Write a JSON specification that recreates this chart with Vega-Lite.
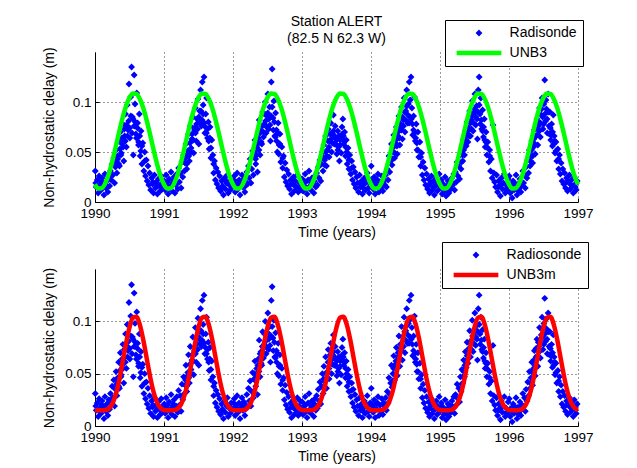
{
"$schema": "https://vega.github.io/schema/vega-lite/v6.json",
"background": "white",
"padding": {"left": 42, "top": 14, "right": 10, "bottom": 0},
"spacing": 1,
"resolve": {"scale": {"color": "independent", "shape": "independent", "x": "independent", "y": "independent"}, "legend": {"color": "independent", "shape": "independent"}},
"config": {
  "font": "Liberation Sans",
  "view": {"stroke": null},
  "axis": {"labelFontSize": 13.5, "titleFontSize": 14, "titleFontWeight": "normal", "labelColor": "#000", "titleColor": "#000", "domainColor": "#000", "tickColor": "#000", "tickSize": -4, "gridColor": "#222", "gridDash": [1, 3], "gridOpacity": 0.9, "gridWidth": 1, "labelFlush": false},
  "legend": {"labelFontSize": 14, "labelFont": "Liberation Sans", "labelColor": "#000", "strokeColor": "#000", "fillColor": "#fff", "padding": 6, "symbolSize": 2000, "symbolStrokeWidth": 4.5, "symbolOpacity": 1, "clipHeight": 14, "rowPadding": 6, "symbolOffset": 3, "labelOffset": 5.6, "orient": "none", "labelLimit": 300},
  "title": {"fontSize": 14, "fontWeight": "normal", "color": "#000", "font": "Liberation Sans"}
},
"datasets": {
"sonde": [
{"t":1990.004,"v":0.031},{"t":1990.018,"v":0.015},{"t":1990.032,"v":0.022},{"t":1990.046,"v":0.009},{"t":1990.06,"v":0.026},{"t":1990.074,"v":0.017},{"t":1990.088,"v":0.012},{"t":1990.102,"v":0.024},{"t":1990.116,"v":0.019},{"t":1990.13,"v":0.007},{"t":1990.144,"v":0.028},{"t":1990.158,"v":0.014},{"t":1990.172,"v":0.021},{"t":1990.186,"v":0.01},{"t":1990.2,"v":0.025},
{"t":1990.212,"v":0.016},{"t":1990.224,"v":0.031},{"t":1990.236,"v":0.022},{"t":1990.248,"v":0.038},{"t":1990.26,"v":0.027},{"t":1990.272,"v":0.044},{"t":1990.284,"v":0.019},{"t":1990.296,"v":0.035},
{"t":1990.305,"v":0.052},{"t":1990.3175,"v":0.029},{"t":1990.33,"v":0.043},{"t":1990.3425,"v":0.061},{"t":1990.355,"v":0.036},{"t":1990.3675,"v":0.07},{"t":1990.38,"v":0.049},{"t":1990.3925,"v":0.058},{"t":1990.405,"v":0.078},{"t":1990.4175,"v":0.041},{"t":1990.43,"v":0.066},{"t":1990.4425,"v":0.088},{"t":1990.455,"v":0.055},{"t":1990.4675,"v":0.097},{"t":1990.48,"v":0.072},{"t":1990.4925,"v":0.118},{"t":1990.505,"v":0.064},{"t":1990.5175,"v":0.105},{"t":1990.53,"v":0.135},{"t":1990.5425,"v":0.085},{"t":1990.555,"v":0.047},{"t":1990.5675,"v":0.127},{"t":1990.58,"v":0.098},{"t":1990.5925,"v":0.068},{"t":1990.605,"v":0.109},{"t":1990.6175,"v":0.079},{"t":1990.63,"v":0.057},{"t":1990.6425,"v":0.088},{"t":1990.655,"v":0.046},{"t":1990.6675,"v":0.071},{"t":1990.68,"v":0.038},{"t":1990.6925,"v":0.059},
{"t":1990.708,"v":0.031},{"t":1990.72,"v":0.05},{"t":1990.732,"v":0.026},{"t":1990.744,"v":0.042},{"t":1990.756,"v":0.021},{"t":1990.768,"v":0.036},{"t":1990.78,"v":0.017},{"t":1990.792,"v":0.029},
{"t":1990.806,"v":0.012},{"t":1990.82,"v":0.024},{"t":1990.834,"v":0.018},{"t":1990.848,"v":0.009},{"t":1990.862,"v":0.027},{"t":1990.876,"v":0.014},{"t":1990.89,"v":0.02},{"t":1990.904,"v":0.008},{"t":1990.918,"v":0.023},{"t":1990.932,"v":0.016},{"t":1990.946,"v":0.011},{"t":1990.96,"v":0.026},{"t":1990.974,"v":0.013},{"t":1990.988,"v":0.019},
{"t":1991.004,"v":0.021},{"t":1991.018,"v":0.012},{"t":1991.032,"v":0.027},{"t":1991.046,"v":0.016},{"t":1991.06,"v":0.008},{"t":1991.074,"v":0.023},{"t":1991.088,"v":0.014},{"t":1991.102,"v":0.03},{"t":1991.116,"v":0.011},{"t":1991.13,"v":0.019},{"t":1991.144,"v":0.025},{"t":1991.158,"v":0.009},{"t":1991.172,"v":0.017},{"t":1991.186,"v":0.028},{"t":1991.2,"v":0.013},
{"t":1991.212,"v":0.034},{"t":1991.224,"v":0.02},{"t":1991.236,"v":0.029},{"t":1991.248,"v":0.014},{"t":1991.26,"v":0.04},{"t":1991.272,"v":0.025},{"t":1991.284,"v":0.047},{"t":1991.296,"v":0.031},
{"t":1991.305,"v":0.039},{"t":1991.3175,"v":0.058},{"t":1991.33,"v":0.033},{"t":1991.3425,"v":0.048},{"t":1991.355,"v":0.068},{"t":1991.3675,"v":0.041},{"t":1991.38,"v":0.076},{"t":1991.3925,"v":0.054},{"t":1991.405,"v":0.063},{"t":1991.4175,"v":0.085},{"t":1991.43,"v":0.049},{"t":1991.4425,"v":0.072},{"t":1991.455,"v":0.094},{"t":1991.4675,"v":0.061},{"t":1991.48,"v":0.083},{"t":1991.4925,"v":0.103},{"t":1991.505,"v":0.058},{"t":1991.5175,"v":0.091},{"t":1991.53,"v":0.112},{"t":1991.5425,"v":0.076},{"t":1991.555,"v":0.12},{"t":1991.5675,"v":0.097},{"t":1991.58,"v":0.125},{"t":1991.5925,"v":0.069},{"t":1991.605,"v":0.088},{"t":1991.6175,"v":0.104},{"t":1991.63,"v":0.064},{"t":1991.6425,"v":0.08},{"t":1991.655,"v":0.053},{"t":1991.6675,"v":0.075},{"t":1991.68,"v":0.044},{"t":1991.6925,"v":0.062},
{"t":1991.708,"v":0.047},{"t":1991.72,"v":0.029},{"t":1991.732,"v":0.041},{"t":1991.744,"v":0.022},{"t":1991.756,"v":0.034},{"t":1991.768,"v":0.018},{"t":1991.78,"v":0.03},{"t":1991.792,"v":0.014},
{"t":1991.806,"v":0.026},{"t":1991.82,"v":0.011},{"t":1991.834,"v":0.021},{"t":1991.848,"v":0.016},{"t":1991.862,"v":0.007},{"t":1991.876,"v":0.024},{"t":1991.89,"v":0.013},{"t":1991.904,"v":0.019},{"t":1991.918,"v":0.027},{"t":1991.932,"v":0.009},{"t":1991.946,"v":0.017},{"t":1991.96,"v":0.012},{"t":1991.974,"v":0.022},{"t":1991.988,"v":0.015},
{"t":1992.004,"v":0.017},{"t":1992.018,"v":0.026},{"t":1992.032,"v":0.01},{"t":1992.046,"v":0.02},{"t":1992.06,"v":0.029},{"t":1992.074,"v":0.013},{"t":1992.088,"v":0.022},{"t":1992.102,"v":0.007},{"t":1992.116,"v":0.018},{"t":1992.13,"v":0.027},{"t":1992.144,"v":0.015},{"t":1992.158,"v":0.023},{"t":1992.172,"v":0.01},{"t":1992.186,"v":0.02},{"t":1992.2,"v":0.03},
{"t":1992.212,"v":0.018},{"t":1992.224,"v":0.036},{"t":1992.236,"v":0.024},{"t":1992.248,"v":0.043},{"t":1992.26,"v":0.019},{"t":1992.272,"v":0.033},{"t":1992.284,"v":0.051},{"t":1992.296,"v":0.027},
{"t":1992.305,"v":0.045},{"t":1992.3175,"v":0.062},{"t":1992.33,"v":0.038},{"t":1992.3425,"v":0.055},{"t":1992.355,"v":0.03},{"t":1992.3675,"v":0.064},{"t":1992.38,"v":0.082},{"t":1992.3925,"v":0.047},{"t":1992.405,"v":0.071},{"t":1992.4175,"v":0.058},{"t":1992.43,"v":0.09},{"t":1992.4425,"v":0.065},{"t":1992.455,"v":0.078},{"t":1992.4675,"v":0.1},{"t":1992.48,"v":0.069},{"t":1992.4925,"v":0.086},{"t":1992.505,"v":0.108},{"t":1992.5175,"v":0.073},{"t":1992.53,"v":0.095},{"t":1992.5425,"v":0.061},{"t":1992.555,"v":0.12},{"t":1992.5675,"v":0.133},{"t":1992.58,"v":0.084},{"t":1992.5925,"v":0.101},{"t":1992.605,"v":0.066},{"t":1992.6175,"v":0.089},{"t":1992.63,"v":0.072},{"t":1992.6425,"v":0.05},{"t":1992.655,"v":0.079},{"t":1992.6675,"v":0.057},{"t":1992.68,"v":0.068},{"t":1992.6925,"v":0.04},
{"t":1992.708,"v":0.055},{"t":1992.72,"v":0.034},{"t":1992.732,"v":0.046},{"t":1992.744,"v":0.025},{"t":1992.756,"v":0.039},{"t":1992.768,"v":0.02},{"t":1992.78,"v":0.032},{"t":1992.792,"v":0.016},
{"t":1992.806,"v":0.028},{"t":1992.82,"v":0.013},{"t":1992.834,"v":0.022},{"t":1992.848,"v":0.008},{"t":1992.862,"v":0.018},{"t":1992.876,"v":0.025},{"t":1992.89,"v":0.011},{"t":1992.904,"v":0.021},{"t":1992.918,"v":0.015},{"t":1992.932,"v":0.027},{"t":1992.946,"v":0.01},{"t":1992.96,"v":0.019},{"t":1992.974,"v":0.024},{"t":1992.988,"v":0.012},
{"t":1993.004,"v":0.023},{"t":1993.018,"v":0.011},{"t":1993.032,"v":0.019},{"t":1993.046,"v":0.028},{"t":1993.06,"v":0.014},{"t":1993.074,"v":0.008},{"t":1993.088,"v":0.022},{"t":1993.102,"v":0.031},{"t":1993.116,"v":0.016},{"t":1993.13,"v":0.012},{"t":1993.144,"v":0.024},{"t":1993.158,"v":0.018},{"t":1993.172,"v":0.009},{"t":1993.186,"v":0.026},{"t":1993.2,"v":0.015},
{"t":1993.212,"v":0.029},{"t":1993.224,"v":0.017},{"t":1993.236,"v":0.035},{"t":1993.248,"v":0.024},{"t":1993.26,"v":0.042},{"t":1993.272,"v":0.021},{"t":1993.284,"v":0.038},{"t":1993.296,"v":0.05},
{"t":1993.305,"v":0.031},{"t":1993.3175,"v":0.057},{"t":1993.33,"v":0.042},{"t":1993.3425,"v":0.066},{"t":1993.355,"v":0.036},{"t":1993.3675,"v":0.052},{"t":1993.38,"v":0.073},{"t":1993.3925,"v":0.045},{"t":1993.405,"v":0.061},{"t":1993.4175,"v":0.079},{"t":1993.43,"v":0.05},{"t":1993.4425,"v":0.068},{"t":1993.455,"v":0.087},{"t":1993.4675,"v":0.058},{"t":1993.48,"v":0.076},{"t":1993.4925,"v":0.064},{"t":1993.505,"v":0.048},{"t":1993.5175,"v":0.071},{"t":1993.53,"v":0.055},{"t":1993.5425,"v":0.041},{"t":1993.555,"v":0.062},{"t":1993.5675,"v":0.049},{"t":1993.58,"v":0.075},{"t":1993.5925,"v":0.083},{"t":1993.605,"v":0.058},{"t":1993.6175,"v":0.07},{"t":1993.63,"v":0.046},{"t":1993.6425,"v":0.062},{"t":1993.655,"v":0.038},{"t":1993.6675,"v":0.054},{"t":1993.68,"v":0.033},{"t":1993.6925,"v":0.047},
{"t":1993.708,"v":0.028},{"t":1993.72,"v":0.041},{"t":1993.732,"v":0.022},{"t":1993.744,"v":0.035},{"t":1993.756,"v":0.018},{"t":1993.768,"v":0.03},{"t":1993.78,"v":0.014},{"t":1993.792,"v":0.025},
{"t":1993.806,"v":0.019},{"t":1993.82,"v":0.01},{"t":1993.834,"v":0.027},{"t":1993.848,"v":0.015},{"t":1993.862,"v":0.021},{"t":1993.876,"v":0.008},{"t":1993.89,"v":0.017},{"t":1993.904,"v":0.024},{"t":1993.918,"v":0.012},{"t":1993.932,"v":0.02},{"t":1993.946,"v":0.029},{"t":1993.96,"v":0.014},{"t":1993.974,"v":0.009},{"t":1993.988,"v":0.022},
{"t":1994.004,"v":0.036},{"t":1994.018,"v":0.019},{"t":1994.032,"v":0.013},{"t":1994.046,"v":0.025},{"t":1994.06,"v":0.008},{"t":1994.074,"v":0.021},{"t":1994.088,"v":0.016},{"t":1994.102,"v":0.028},{"t":1994.116,"v":0.01},{"t":1994.13,"v":0.02},{"t":1994.144,"v":0.014},{"t":1994.158,"v":0.026},{"t":1994.172,"v":0.011},{"t":1994.186,"v":0.022},{"t":1994.2,"v":0.017},
{"t":1994.212,"v":0.027},{"t":1994.224,"v":0.015},{"t":1994.236,"v":0.033},{"t":1994.248,"v":0.022},{"t":1994.26,"v":0.046},{"t":1994.272,"v":0.03},{"t":1994.284,"v":0.041},{"t":1994.296,"v":0.058},
{"t":1994.305,"v":0.037},{"t":1994.3175,"v":0.05},{"t":1994.33,"v":0.067},{"t":1994.3425,"v":0.044},{"t":1994.355,"v":0.059},{"t":1994.3675,"v":0.075},{"t":1994.38,"v":0.048},{"t":1994.3925,"v":0.066},{"t":1994.405,"v":0.086},{"t":1994.4175,"v":0.057},{"t":1994.43,"v":0.074},{"t":1994.4425,"v":0.095},{"t":1994.455,"v":0.063},{"t":1994.4675,"v":0.082},{"t":1994.48,"v":0.104},{"t":1994.4925,"v":0.07},{"t":1994.505,"v":0.091},{"t":1994.5175,"v":0.112},{"t":1994.53,"v":0.079},{"t":1994.5425,"v":0.098},{"t":1994.555,"v":0.12},{"t":1994.5675,"v":0.085},{"t":1994.58,"v":0.125},{"t":1994.5925,"v":0.094},{"t":1994.605,"v":0.067},{"t":1994.6175,"v":0.086},{"t":1994.63,"v":0.105},{"t":1994.6425,"v":0.061},{"t":1994.655,"v":0.078},{"t":1994.6675,"v":0.052},{"t":1994.68,"v":0.07},{"t":1994.6925,"v":0.045},
{"t":1994.708,"v":0.06},{"t":1994.72,"v":0.036},{"t":1994.732,"v":0.049},{"t":1994.744,"v":0.027},{"t":1994.756,"v":0.04},{"t":1994.768,"v":0.022},{"t":1994.78,"v":0.034},{"t":1994.792,"v":0.017},
{"t":1994.806,"v":0.028},{"t":1994.82,"v":0.013},{"t":1994.834,"v":0.023},{"t":1994.848,"v":0.009},{"t":1994.862,"v":0.019},{"t":1994.876,"v":0.026},{"t":1994.89,"v":0.012},{"t":1994.904,"v":0.021},{"t":1994.918,"v":0.007},{"t":1994.932,"v":0.016},{"t":1994.946,"v":0.024},{"t":1994.96,"v":0.011},{"t":1994.974,"v":0.018},{"t":1994.988,"v":0.028},
{"t":1995.004,"v":0.014},{"t":1995.018,"v":0.022},{"t":1995.032,"v":0.008},{"t":1995.046,"v":0.018},{"t":1995.06,"v":0.011},{"t":1995.074,"v":0.025},{"t":1995.088,"v":0.006},{"t":1995.102,"v":0.016},{"t":1995.116,"v":0.021},{"t":1995.13,"v":0.009},{"t":1995.144,"v":0.019},{"t":1995.158,"v":0.013},{"t":1995.172,"v":0.024},{"t":1995.186,"v":0.017},{"t":1995.2,"v":0.028},
{"t":1995.212,"v":0.012},{"t":1995.224,"v":0.03},{"t":1995.236,"v":0.02},{"t":1995.248,"v":0.04},{"t":1995.26,"v":0.026},{"t":1995.272,"v":0.036},{"t":1995.284,"v":0.023},{"t":1995.296,"v":0.047},
{"t":1995.305,"v":0.033},{"t":1995.3175,"v":0.054},{"t":1995.33,"v":0.041},{"t":1995.3425,"v":0.063},{"t":1995.355,"v":0.047},{"t":1995.3675,"v":0.071},{"t":1995.38,"v":0.056},{"t":1995.3925,"v":0.08},{"t":1995.405,"v":0.06},{"t":1995.4175,"v":0.074},{"t":1995.43,"v":0.091},{"t":1995.4425,"v":0.066},{"t":1995.455,"v":0.082},{"t":1995.4675,"v":0.101},{"t":1995.48,"v":0.071},{"t":1995.4925,"v":0.089},{"t":1995.505,"v":0.108},{"t":1995.5175,"v":0.077},{"t":1995.53,"v":0.096},{"t":1995.5425,"v":0.063},{"t":1995.555,"v":0.112},{"t":1995.5675,"v":0.125},{"t":1995.58,"v":0.088},{"t":1995.5925,"v":0.104},{"t":1995.605,"v":0.073},{"t":1995.6175,"v":0.092},{"t":1995.63,"v":0.065},{"t":1995.6425,"v":0.083},{"t":1995.655,"v":0.055},{"t":1995.6675,"v":0.07},{"t":1995.68,"v":0.047},{"t":1995.6925,"v":0.06},
{"t":1995.708,"v":0.04},{"t":1995.72,"v":0.052},{"t":1995.732,"v":0.031},{"t":1995.744,"v":0.043},{"t":1995.756,"v":0.024},{"t":1995.768,"v":0.077},{"t":1995.78,"v":0.029},{"t":1995.792,"v":0.02},
{"t":1995.806,"v":0.015},{"t":1995.82,"v":0.027},{"t":1995.834,"v":0.01},{"t":1995.848,"v":0.021},{"t":1995.862,"v":0.016},{"t":1995.876,"v":0.006},{"t":1995.89,"v":0.024},{"t":1995.904,"v":0.013},{"t":1995.918,"v":0.019},{"t":1995.932,"v":0.028},{"t":1995.946,"v":0.009},{"t":1995.96,"v":0.017},{"t":1995.974,"v":0.012},{"t":1995.988,"v":0.023},
{"t":1996.004,"v":0.026},{"t":1996.018,"v":0.009},{"t":1996.032,"v":0.017},{"t":1996.046,"v":0.004},{"t":1996.06,"v":0.021},{"t":1996.074,"v":0.012},{"t":1996.088,"v":0.016},{"t":1996.102,"v":0.027},{"t":1996.116,"v":0.007},{"t":1996.13,"v":0.018},{"t":1996.144,"v":0.013},{"t":1996.158,"v":0.023},{"t":1996.172,"v":0.01},{"t":1996.186,"v":0.02},{"t":1996.2,"v":0.031},
{"t":1996.212,"v":0.019},{"t":1996.224,"v":0.027},{"t":1996.236,"v":0.014},{"t":1996.248,"v":0.035},{"t":1996.26,"v":0.024},{"t":1996.272,"v":0.042},{"t":1996.284,"v":0.029},{"t":1996.296,"v":0.052},
{"t":1996.305,"v":0.036},{"t":1996.3175,"v":0.046},{"t":1996.33,"v":0.061},{"t":1996.3425,"v":0.039},{"t":1996.355,"v":0.055},{"t":1996.3675,"v":0.072},{"t":1996.38,"v":0.048},{"t":1996.3925,"v":0.066},{"t":1996.405,"v":0.083},{"t":1996.4175,"v":0.057},{"t":1996.43,"v":0.076},{"t":1996.4425,"v":0.094},{"t":1996.455,"v":0.065},{"t":1996.4675,"v":0.087},{"t":1996.48,"v":0.104},{"t":1996.4925,"v":0.073},{"t":1996.505,"v":0.098},{"t":1996.5175,"v":0.122},{"t":1996.53,"v":0.081},{"t":1996.5425,"v":0.093},{"t":1996.555,"v":0.069},{"t":1996.5675,"v":0.108},{"t":1996.58,"v":0.076},{"t":1996.5925,"v":0.09},{"t":1996.605,"v":0.062},{"t":1996.6175,"v":0.078},{"t":1996.63,"v":0.056},{"t":1996.6425,"v":0.087},{"t":1996.655,"v":0.066},{"t":1996.6675,"v":0.049},{"t":1996.68,"v":0.06},{"t":1996.6925,"v":0.041},
{"t":1996.708,"v":0.053},{"t":1996.72,"v":0.033},{"t":1996.732,"v":0.047},{"t":1996.744,"v":0.028},{"t":1996.756,"v":0.039},{"t":1996.768,"v":0.021},{"t":1996.78,"v":0.033},{"t":1996.792,"v":0.018},
{"t":1996.806,"v":0.029},{"t":1996.82,"v":0.014},{"t":1996.834,"v":0.024},{"t":1996.848,"v":0.011},{"t":1996.862,"v":0.02},{"t":1996.876,"v":0.027},{"t":1996.89,"v":0.013},{"t":1996.904,"v":0.022},{"t":1996.918,"v":0.016},{"t":1996.932,"v":0.009},{"t":1996.946,"v":0.025},{"t":1996.96,"v":0.018},{"t":1996.974,"v":0.012},{"t":1996.988,"v":0.021},
{"t":1990.312,"v":0.04},{"t":1990.328,"v":0.046},{"t":1990.344,"v":0.038},{"t":1990.36,"v":0.053},{"t":1990.376,"v":0.047},{"t":1990.392,"v":0.064},{"t":1990.408,"v":0.055},{"t":1990.424,"v":0.073},{"t":1990.44,"v":0.061},{"t":1990.456,"v":0.077},{"t":1990.472,"v":0.066},{"t":1990.488,"v":0.081},{"t":1990.504,"v":0.074},{"t":1990.52,"v":0.086},{"t":1990.536,"v":0.069},{"t":1990.552,"v":0.083},{"t":1990.568,"v":0.076},{"t":1990.584,"v":0.08},{"t":1990.6,"v":0.064},{"t":1990.616,"v":0.074},{"t":1990.632,"v":0.06},{"t":1990.648,"v":0.066},{"t":1990.664,"v":0.051},{"t":1990.68,"v":0.056},{"t":1990.72,"v":0.041},
{"t":1990.011,"v":0.019},{"t":1990.053,"v":0.015},{"t":1990.095,"v":0.02},{"t":1990.137,"v":0.017},{"t":1990.179,"v":0.015},{"t":1990.84,"v":0.02},{"t":1990.9,"v":0.016},{"t":1990.96,"v":0.018},
{"t":1991.312,"v":0.044},{"t":1991.328,"v":0.038},{"t":1991.344,"v":0.051},{"t":1991.36,"v":0.046},{"t":1991.376,"v":0.059},{"t":1991.392,"v":0.05},{"t":1991.408,"v":0.068},{"t":1991.424,"v":0.062},{"t":1991.44,"v":0.074},{"t":1991.456,"v":0.069},{"t":1991.472,"v":0.078},{"t":1991.488,"v":0.073},{"t":1991.504,"v":0.085},{"t":1991.52,"v":0.079},{"t":1991.536,"v":0.091},{"t":1991.552,"v":0.082},{"t":1991.568,"v":0.088},{"t":1991.584,"v":0.079},{"t":1991.6,"v":0.075},{"t":1991.616,"v":0.069},{"t":1991.632,"v":0.073},{"t":1991.648,"v":0.061},{"t":1991.664,"v":0.064},{"t":1991.68,"v":0.054},{"t":1991.72,"v":0.038},
{"t":1991.011,"v":0.017},{"t":1991.053,"v":0.02},{"t":1991.095,"v":0.016},{"t":1991.137,"v":0.021},{"t":1991.179,"v":0.019},{"t":1991.84,"v":0.014},{"t":1991.9,"v":0.021},{"t":1991.96,"v":0.017},
{"t":1992.312,"v":0.05},{"t":1992.328,"v":0.043},{"t":1992.344,"v":0.047},{"t":1992.36,"v":0.058},{"t":1992.376,"v":0.052},{"t":1992.392,"v":0.069},{"t":1992.408,"v":0.06},{"t":1992.424,"v":0.076},{"t":1992.44,"v":0.07},{"t":1992.456,"v":0.088},{"t":1992.472,"v":0.081},{"t":1992.488,"v":0.075},{"t":1992.504,"v":0.089},{"t":1992.52,"v":0.083},{"t":1992.536,"v":0.077},{"t":1992.552,"v":0.086},{"t":1992.568,"v":0.095},{"t":1992.584,"v":0.072},{"t":1992.6,"v":0.08},{"t":1992.616,"v":0.065},{"t":1992.632,"v":0.061},{"t":1992.648,"v":0.069},{"t":1992.664,"v":0.048},{"t":1992.68,"v":0.058},{"t":1992.72,"v":0.044},
{"t":1992.011,"v":0.022},{"t":1992.053,"v":0.017},{"t":1992.095,"v":0.015},{"t":1992.137,"v":0.02},{"t":1992.179,"v":0.016},{"t":1992.84,"v":0.018},{"t":1992.9,"v":0.016},{"t":1992.96,"v":0.014},
{"t":1993.312,"v":0.045},{"t":1993.328,"v":0.037},{"t":1993.344,"v":0.05},{"t":1993.36,"v":0.046},{"t":1993.376,"v":0.061},{"t":1993.392,"v":0.055},{"t":1993.408,"v":0.068},{"t":1993.424,"v":0.063},{"t":1993.44,"v":0.059},{"t":1993.456,"v":0.071},{"t":1993.472,"v":0.066},{"t":1993.488,"v":0.058},{"t":1993.504,"v":0.062},{"t":1993.52,"v":0.052},{"t":1993.536,"v":0.066},{"t":1993.552,"v":0.057},{"t":1993.568,"v":0.063},{"t":1993.584,"v":0.068},{"t":1993.6,"v":0.066},{"t":1993.616,"v":0.061},{"t":1993.632,"v":0.055},{"t":1993.648,"v":0.05},{"t":1993.664,"v":0.046},{"t":1993.68,"v":0.042},{"t":1993.72,"v":0.034},
{"t":1993.011,"v":0.016},{"t":1993.053,"v":0.02},{"t":1993.095,"v":0.014},{"t":1993.137,"v":0.019},{"t":1993.179,"v":0.021},{"t":1993.84,"v":0.019},{"t":1993.9,"v":0.013},{"t":1993.96,"v":0.02},
{"t":1994.312,"v":0.043},{"t":1994.328,"v":0.055},{"t":1994.344,"v":0.049},{"t":1994.36,"v":0.062},{"t":1994.376,"v":0.056},{"t":1994.392,"v":0.07},{"t":1994.408,"v":0.064},{"t":1994.424,"v":0.078},{"t":1994.44,"v":0.072},{"t":1994.456,"v":0.085},{"t":1994.472,"v":0.076},{"t":1994.488,"v":0.09},{"t":1994.504,"v":0.082},{"t":1994.52,"v":0.096},{"t":1994.536,"v":0.087},{"t":1994.552,"v":0.079},{"t":1994.568,"v":0.102},{"t":1994.584,"v":0.083},{"t":1994.6,"v":0.078},{"t":1994.616,"v":0.072},{"t":1994.632,"v":0.069},{"t":1994.648,"v":0.064},{"t":1994.664,"v":0.059},{"t":1994.68,"v":0.052},{"t":1994.72,"v":0.045},
{"t":1994.011,"v":0.021},{"t":1994.053,"v":0.016},{"t":1994.095,"v":0.022},{"t":1994.137,"v":0.015},{"t":1994.179,"v":0.02},{"t":1994.84,"v":0.017},{"t":1994.9,"v":0.015},{"t":1994.96,"v":0.019},
{"t":1995.312,"v":0.04},{"t":1995.328,"v":0.047},{"t":1995.344,"v":0.052},{"t":1995.36,"v":0.058},{"t":1995.376,"v":0.062},{"t":1995.392,"v":0.067},{"t":1995.408,"v":0.071},{"t":1995.424,"v":0.066},{"t":1995.44,"v":0.079},{"t":1995.456,"v":0.073},{"t":1995.472,"v":0.086},{"t":1995.488,"v":0.079},{"t":1995.504,"v":0.093},{"t":1995.52,"v":0.085},{"t":1995.536,"v":0.083},{"t":1995.552,"v":0.09},{"t":1995.568,"v":0.097},{"t":1995.584,"v":0.078},{"t":1995.6,"v":0.082},{"t":1995.616,"v":0.071},{"t":1995.632,"v":0.075},{"t":1995.648,"v":0.062},{"t":1995.664,"v":0.06},{"t":1995.68,"v":0.055},{"t":1995.72,"v":0.046},
{"t":1995.011,"v":0.018},{"t":1995.053,"v":0.014},{"t":1995.095,"v":0.012},{"t":1995.137,"v":0.016},{"t":1995.179,"v":0.019},{"t":1995.84,"v":0.015},{"t":1995.9,"v":0.018},{"t":1995.96,"v":0.013},
{"t":1996.312,"v":0.041},{"t":1996.328,"v":0.052},{"t":1996.344,"v":0.046},{"t":1996.36,"v":0.063},{"t":1996.376,"v":0.058},{"t":1996.392,"v":0.074},{"t":1996.408,"v":0.067},{"t":1996.424,"v":0.08},{"t":1996.44,"v":0.071},{"t":1996.456,"v":0.079},{"t":1996.472,"v":0.093},{"t":1996.488,"v":0.085},{"t":1996.504,"v":0.078},{"t":1996.52,"v":0.088},{"t":1996.536,"v":0.102},{"t":1996.552,"v":0.083},{"t":1996.568,"v":0.09},{"t":1996.584,"v":0.068},{"t":1996.6,"v":0.074},{"t":1996.616,"v":0.067},{"t":1996.632,"v":0.07},{"t":1996.648,"v":0.058},{"t":1996.664,"v":0.061},{"t":1996.68,"v":0.051},{"t":1996.72,"v":0.043},
{"t":1996.011,"v":0.015},{"t":1996.053,"v":0.013},{"t":1996.095,"v":0.018},{"t":1996.137,"v":0.011},{"t":1996.179,"v":0.016},{"t":1996.84,"v":0.02},{"t":1996.9,"v":0.017},{"t":1996.96,"v":0.015}
],
"unb3": [
{"t":1990.0,"v":0.0176},{"t":1990.05,"v":0.0134},{"t":1990.1,"v":0.0139},{"t":1990.15,"v":0.019},{"t":1990.2,"v":0.0281},{"t":1990.25,"v":0.0406},{"t":1990.3,"v":0.055},{"t":1990.35,"v":0.07},{"t":1990.4,"v":0.0841},{"t":1990.45,"v":0.096},{"t":1990.5,"v":0.1044},{"t":1990.55,"v":0.1086},{"t":1990.6,"v":0.1081},{"t":1990.65,"v":0.103},{"t":1990.7,"v":0.0939},{"t":1990.75,"v":0.0814},{"t":1990.8,"v":0.067},{"t":1990.85,"v":0.052},{"t":1990.9,"v":0.0379},{"t":1990.95,"v":0.026},
{"t":1991.0,"v":0.0176},{"t":1991.05,"v":0.0134},{"t":1991.1,"v":0.0139},{"t":1991.15,"v":0.019},{"t":1991.2,"v":0.0281},{"t":1991.25,"v":0.0406},{"t":1991.3,"v":0.055},{"t":1991.35,"v":0.07},{"t":1991.4,"v":0.0841},{"t":1991.45,"v":0.096},{"t":1991.5,"v":0.1044},{"t":1991.55,"v":0.1086},{"t":1991.6,"v":0.1081},{"t":1991.65,"v":0.103},{"t":1991.7,"v":0.0939},{"t":1991.75,"v":0.0814},{"t":1991.8,"v":0.067},{"t":1991.85,"v":0.052},{"t":1991.9,"v":0.0379},{"t":1991.95,"v":0.026},
{"t":1992.0,"v":0.0176},{"t":1992.05,"v":0.0134},{"t":1992.1,"v":0.0139},{"t":1992.15,"v":0.019},{"t":1992.2,"v":0.0281},{"t":1992.25,"v":0.0406},{"t":1992.3,"v":0.055},{"t":1992.35,"v":0.07},{"t":1992.4,"v":0.0841},{"t":1992.45,"v":0.096},{"t":1992.5,"v":0.1044},{"t":1992.55,"v":0.1086},{"t":1992.6,"v":0.1081},{"t":1992.65,"v":0.103},{"t":1992.7,"v":0.0939},{"t":1992.75,"v":0.0814},{"t":1992.8,"v":0.067},{"t":1992.85,"v":0.052},{"t":1992.9,"v":0.0379},{"t":1992.95,"v":0.026},
{"t":1993.0,"v":0.0176},{"t":1993.05,"v":0.0134},{"t":1993.1,"v":0.0139},{"t":1993.15,"v":0.019},{"t":1993.2,"v":0.0281},{"t":1993.25,"v":0.0406},{"t":1993.3,"v":0.055},{"t":1993.35,"v":0.07},{"t":1993.4,"v":0.0841},{"t":1993.45,"v":0.096},{"t":1993.5,"v":0.1044},{"t":1993.55,"v":0.1086},{"t":1993.6,"v":0.1081},{"t":1993.65,"v":0.103},{"t":1993.7,"v":0.0939},{"t":1993.75,"v":0.0814},{"t":1993.8,"v":0.067},{"t":1993.85,"v":0.052},{"t":1993.9,"v":0.0379},{"t":1993.95,"v":0.026},
{"t":1994.0,"v":0.0176},{"t":1994.05,"v":0.0134},{"t":1994.1,"v":0.0139},{"t":1994.15,"v":0.019},{"t":1994.2,"v":0.0281},{"t":1994.25,"v":0.0406},{"t":1994.3,"v":0.055},{"t":1994.35,"v":0.07},{"t":1994.4,"v":0.0841},{"t":1994.45,"v":0.096},{"t":1994.5,"v":0.1044},{"t":1994.55,"v":0.1086},{"t":1994.6,"v":0.1081},{"t":1994.65,"v":0.103},{"t":1994.7,"v":0.0939},{"t":1994.75,"v":0.0814},{"t":1994.8,"v":0.067},{"t":1994.85,"v":0.052},{"t":1994.9,"v":0.0379},{"t":1994.95,"v":0.026},
{"t":1995.0,"v":0.0176},{"t":1995.05,"v":0.0134},{"t":1995.1,"v":0.0139},{"t":1995.15,"v":0.019},{"t":1995.2,"v":0.0281},{"t":1995.25,"v":0.0406},{"t":1995.3,"v":0.055},{"t":1995.35,"v":0.07},{"t":1995.4,"v":0.0841},{"t":1995.45,"v":0.096},{"t":1995.5,"v":0.1044},{"t":1995.55,"v":0.1086},{"t":1995.6,"v":0.1081},{"t":1995.65,"v":0.103},{"t":1995.7,"v":0.0939},{"t":1995.75,"v":0.0814},{"t":1995.8,"v":0.067},{"t":1995.85,"v":0.052},{"t":1995.9,"v":0.0379},{"t":1995.95,"v":0.026},
{"t":1996.0,"v":0.0176},{"t":1996.05,"v":0.0134},{"t":1996.1,"v":0.0139},{"t":1996.15,"v":0.019},{"t":1996.2,"v":0.0281},{"t":1996.25,"v":0.0406},{"t":1996.3,"v":0.055},{"t":1996.35,"v":0.07},{"t":1996.4,"v":0.0841},{"t":1996.45,"v":0.096},{"t":1996.5,"v":0.1044},{"t":1996.55,"v":0.1086},{"t":1996.6,"v":0.1081},{"t":1996.65,"v":0.103},{"t":1996.7,"v":0.0939},{"t":1996.75,"v":0.0814},{"t":1996.8,"v":0.067},{"t":1996.85,"v":0.052},{"t":1996.9,"v":0.0379},{"t":1996.95,"v":0.026},
{"t":1997.0,"v":0.0176}
],
"unb3m": [
{"t":1990.0,"v":0.0153},{"t":1990.05,"v":0.015},{"t":1990.1,"v":0.015},{"t":1990.15,"v":0.0152},{"t":1990.2,"v":0.0167},{"t":1990.25,"v":0.021},{"t":1990.3,"v":0.0299},{"t":1990.35,"v":0.0435},{"t":1990.4,"v":0.0608},{"t":1990.45,"v":0.0789},{"t":1990.5,"v":0.0942},{"t":1990.55,"v":0.1034},{"t":1990.6,"v":0.1043},{"t":1990.65,"v":0.0966},{"t":1990.7,"v":0.0822},{"t":1990.75,"v":0.0644},{"t":1990.8,"v":0.0467},{"t":1990.85,"v":0.0322},{"t":1990.9,"v":0.0224},{"t":1990.95,"v":0.0172},
{"t":1991.0,"v":0.0153},{"t":1991.05,"v":0.015},{"t":1991.1,"v":0.015},{"t":1991.15,"v":0.0152},{"t":1991.2,"v":0.0167},{"t":1991.25,"v":0.021},{"t":1991.3,"v":0.0299},{"t":1991.35,"v":0.0435},{"t":1991.4,"v":0.0608},{"t":1991.45,"v":0.0789},{"t":1991.5,"v":0.0942},{"t":1991.55,"v":0.1034},{"t":1991.6,"v":0.1043},{"t":1991.65,"v":0.0966},{"t":1991.7,"v":0.0822},{"t":1991.75,"v":0.0644},{"t":1991.8,"v":0.0467},{"t":1991.85,"v":0.0322},{"t":1991.9,"v":0.0224},{"t":1991.95,"v":0.0172},
{"t":1992.0,"v":0.0153},{"t":1992.05,"v":0.015},{"t":1992.1,"v":0.015},{"t":1992.15,"v":0.0152},{"t":1992.2,"v":0.0167},{"t":1992.25,"v":0.021},{"t":1992.3,"v":0.0299},{"t":1992.35,"v":0.0435},{"t":1992.4,"v":0.0608},{"t":1992.45,"v":0.0789},{"t":1992.5,"v":0.0942},{"t":1992.55,"v":0.1034},{"t":1992.6,"v":0.1043},{"t":1992.65,"v":0.0966},{"t":1992.7,"v":0.0822},{"t":1992.75,"v":0.0644},{"t":1992.8,"v":0.0467},{"t":1992.85,"v":0.0322},{"t":1992.9,"v":0.0224},{"t":1992.95,"v":0.0172},
{"t":1993.0,"v":0.0153},{"t":1993.05,"v":0.015},{"t":1993.1,"v":0.015},{"t":1993.15,"v":0.0152},{"t":1993.2,"v":0.0167},{"t":1993.25,"v":0.021},{"t":1993.3,"v":0.0299},{"t":1993.35,"v":0.0435},{"t":1993.4,"v":0.0608},{"t":1993.45,"v":0.0789},{"t":1993.5,"v":0.0942},{"t":1993.55,"v":0.1034},{"t":1993.6,"v":0.1043},{"t":1993.65,"v":0.0966},{"t":1993.7,"v":0.0822},{"t":1993.75,"v":0.0644},{"t":1993.8,"v":0.0467},{"t":1993.85,"v":0.0322},{"t":1993.9,"v":0.0224},{"t":1993.95,"v":0.0172},
{"t":1994.0,"v":0.0153},{"t":1994.05,"v":0.015},{"t":1994.1,"v":0.015},{"t":1994.15,"v":0.0152},{"t":1994.2,"v":0.0167},{"t":1994.25,"v":0.021},{"t":1994.3,"v":0.0299},{"t":1994.35,"v":0.0435},{"t":1994.4,"v":0.0608},{"t":1994.45,"v":0.0789},{"t":1994.5,"v":0.0942},{"t":1994.55,"v":0.1034},{"t":1994.6,"v":0.1043},{"t":1994.65,"v":0.0966},{"t":1994.7,"v":0.0822},{"t":1994.75,"v":0.0644},{"t":1994.8,"v":0.0467},{"t":1994.85,"v":0.0322},{"t":1994.9,"v":0.0224},{"t":1994.95,"v":0.0172},
{"t":1995.0,"v":0.0153},{"t":1995.05,"v":0.015},{"t":1995.1,"v":0.015},{"t":1995.15,"v":0.0152},{"t":1995.2,"v":0.0167},{"t":1995.25,"v":0.021},{"t":1995.3,"v":0.0299},{"t":1995.35,"v":0.0435},{"t":1995.4,"v":0.0608},{"t":1995.45,"v":0.0789},{"t":1995.5,"v":0.0942},{"t":1995.55,"v":0.1034},{"t":1995.6,"v":0.1043},{"t":1995.65,"v":0.0966},{"t":1995.7,"v":0.0822},{"t":1995.75,"v":0.0644},{"t":1995.8,"v":0.0467},{"t":1995.85,"v":0.0322},{"t":1995.9,"v":0.0224},{"t":1995.95,"v":0.0172},
{"t":1996.0,"v":0.0153},{"t":1996.05,"v":0.015},{"t":1996.1,"v":0.015},{"t":1996.15,"v":0.0152},{"t":1996.2,"v":0.0167},{"t":1996.25,"v":0.021},{"t":1996.3,"v":0.0299},{"t":1996.35,"v":0.0435},{"t":1996.4,"v":0.0608},{"t":1996.45,"v":0.0789},{"t":1996.5,"v":0.0942},{"t":1996.55,"v":0.1034},{"t":1996.6,"v":0.1043},{"t":1996.65,"v":0.0966},{"t":1996.7,"v":0.0822},{"t":1996.75,"v":0.0644},{"t":1996.8,"v":0.0467},{"t":1996.85,"v":0.0322},{"t":1996.9,"v":0.0224},{"t":1996.95,"v":0.0172},
{"t":1997.0,"v":0.0153}
]
},
"vconcat": [
{
  "width": 483, "height": 150,
  "title": {"text": ["Station ALERT", "(82.5 N 62.3 W)"], "lineHeight": 17, "offset": -26},
  "layer": [
    {"data": {"name": "sonde"},
     "mark": {"type": "point", "filled": true, "size": 45, "opacity": 1, "stroke": "#0000ff", "strokeWidth": 4.8},
     "encoding": {
       "x": {"field": "t", "type": "quantitative", "scale": {"domain": [1990, 1997], "nice": false, "zero": false}, "axis": {"values": [1990,1991,1992,1993,1994,1995,1996,1997], "format": "d", "title": "Time (years)", "labelPadding": 8, "titlePadding": 6, "grid": true}},
       "y": {"field": "v", "type": "quantitative", "scale": {"domain": [0, 0.15], "nice": false}, "axis": {"values": [0, 0.05, 0.1], "format": "~g", "title": "Non-hydrostatic delay (m)", "labelPadding": 8, "titlePadding": 8, "grid": true}},
       "color": {"datum": "Radisonde", "type": "nominal", "scale": {"domain": ["Radisonde", "UNB3"], "range": ["#0000ff", "#00ff00"]},
         "legend": {"title": null, "legendX": 350, "legendY": -32}},
       "shape": {"datum": "Radisonde", "type": "nominal", "scale": {"domain": ["Radisonde", "UNB3"], "range": ["M0,-0.01L0.01,0L0,0.01L-0.01,0Z", "stroke"]},
         "legend": {"title": null, "legendX": 350, "legendY": -32}}
     }},
    {"data": {"name": "unb3"},
     "mark": {"type": "line", "strokeWidth": 4.5, "interpolate": "monotone"},
     "encoding": {
       "x": {"field": "t", "type": "quantitative"},
       "y": {"field": "v", "type": "quantitative"},
       "color": {"datum": "UNB3", "type": "nominal"}
     }}
  ]
},
{
  "width": 483, "height": 157,
  "layer": [
    {"data": {"name": "sonde"},
     "mark": {"type": "point", "filled": true, "size": 45, "opacity": 1, "stroke": "#0000ff", "strokeWidth": 4.8},
     "encoding": {
       "x": {"field": "t", "type": "quantitative", "scale": {"domain": [1990, 1997], "nice": false, "zero": false}, "axis": {"values": [1990,1991,1992,1993,1994,1995,1996,1997], "format": "d", "title": "Time (years)", "labelPadding": 8, "titlePadding": 6, "grid": true}},
       "y": {"field": "v", "type": "quantitative", "scale": {"domain": [0, 0.15], "nice": false}, "axis": {"values": [0, 0.05, 0.1], "format": "~g", "title": "Non-hydrostatic delay (m)", "labelPadding": 8, "titlePadding": 8, "grid": true}},
       "color": {"datum": "Radiosonde", "type": "nominal", "scale": {"domain": ["Radiosonde", "UNB3m"], "range": ["#0000ff", "#ff0000"]},
         "legend": {"title": null, "legendX": 347, "legendY": -27}},
       "shape": {"datum": "Radiosonde", "type": "nominal", "scale": {"domain": ["Radiosonde", "UNB3m"], "range": ["M0,-0.01L0.01,0L0,0.01L-0.01,0Z", "stroke"]},
         "legend": {"title": null, "legendX": 347, "legendY": -27}}
     }},
    {"data": {"name": "unb3m"},
     "mark": {"type": "line", "strokeWidth": 4.5, "interpolate": "monotone"},
     "encoding": {
       "x": {"field": "t", "type": "quantitative"},
       "y": {"field": "v", "type": "quantitative"},
       "color": {"datum": "UNB3m", "type": "nominal"}
     }}
  ]
}
]
}
